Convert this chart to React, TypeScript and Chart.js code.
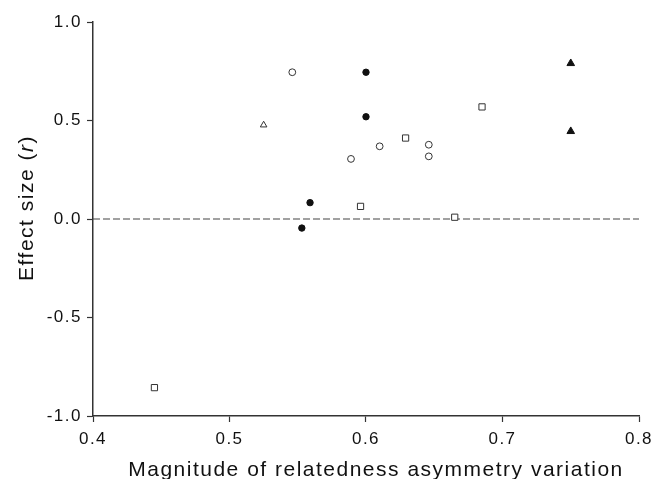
import React, { useEffect, useRef } from "react";
import { Chart, registerables } from "chart.js";

Chart.register(...registerables);

// Data
const filledCircleX = [0.553, 0.559, 0.600, 0.600];
const filledCircleY = [-0.046, 0.083, 0.745, 0.519];

const openCircleX = [0.546, 0.589, 0.610, 0.646, 0.646];
const openCircleY = [0.745, 0.305, 0.369, 0.377, 0.318];

const openSquareX = [0.445, 0.596, 0.629, 0.665, 0.685];
const openSquareY = [-0.856, 0.064, 0.411, 0.009, 0.569];

const openTriangleX = [0.525];
const openTriangleY = [0.477];

const filledTriangleX = [0.750, 0.750];
const filledTriangleY = [0.790, 0.445];

const zeroLineX = [0.4, 0.8];
const zeroLineY = [0, 0];

const xTicks = [0.4, 0.5, 0.6, 0.7, 0.8];
const yTicks = [-1.0, -0.5, 0.0, 0.5, 1.0];

const xTitle = "Magnitude of relatedness asymmetry variation";
const yTitleParts = [
  { text: "Effect size (", italic: false },
  { text: "r", italic: true },
  { text: ")", italic: false },
];

const FONT = "'Liberation Sans', Arial, sans-serif";
const INK = "#111111";

const pts = (xs: number[], ys: number[]) => xs.map((x, i) => ({ x, y: ys[i] }));

export default function App() {
  const ref = useRef<HTMLCanvasElement | null>(null);

  useEffect(() => {
    if (!ref.current) return;

    const spacingPlugin = {
      id: "spacing",
      beforeDraw(chart: any) {
        chart.ctx.letterSpacing = "1.5px";
      },
    };

    const titlePlugin = {
      id: "titles",
      afterDraw(chart: any) {
        const ctx = chart.ctx as CanvasRenderingContext2D;
        ctx.save();
        (ctx as any).letterSpacing = "1.5px";
        ctx.fillStyle = INK;
        ctx.textBaseline = "alphabetic";
        ctx.textAlign = "left";
        // x title
        ctx.font = `21px ${FONT}`;
        const xw = ctx.measureText(xTitle).width;
        ctx.fillText(xTitle, 376 - xw / 2, 476);
        // y title (rotated, with italic r)
        const fonts = yTitleParts.map((p) => `${p.italic ? "italic " : ""}21px ${FONT}`);
        const widths = yTitleParts.map((p, i) => {
          ctx.font = fonts[i];
          return ctx.measureText(p.text).width;
        });
        const total = widths.reduce((a, b) => a + b, 0);
        ctx.translate(33, 208);
        ctx.rotate(-Math.PI / 2);
        let cx = -total / 2;
        yTitleParts.forEach((p, i) => {
          ctx.font = fonts[i];
          ctx.fillText(p.text, cx, 0);
          cx += widths[i];
        });
        ctx.restore();
      },
    };

    const tickFont = { family: FONT, size: 17 };

    const chart = new Chart(ref.current, {
      type: "scatter",
      data: {
        datasets: [
          {
            label: "filled circles",
            data: pts(filledCircleX, filledCircleY),
            pointStyle: "circle",
            pointRadius: 3.2,
            backgroundColor: INK,
            borderColor: INK,
            borderWidth: 1,
            order: 1,
          },
          {
            label: "open circles",
            data: pts(openCircleX, openCircleY),
            pointStyle: "circle",
            pointRadius: 3.4,
            backgroundColor: "#ffffff",
            borderColor: "#333333",
            borderWidth: 1,
            order: 1,
          },
          {
            label: "open squares",
            data: pts(openSquareX, openSquareY),
            pointStyle: "rect",
            pointRadius: 4.4,
            backgroundColor: "#ffffff",
            borderColor: "#333333",
            borderWidth: 1,
            order: 1,
          },
          {
            label: "open triangle",
            data: pts(openTriangleX, openTriangleY),
            pointStyle: "triangle",
            pointRadius: 3.8,
            backgroundColor: "#ffffff",
            borderColor: "#333333",
            borderWidth: 1,
            order: 1,
          },
          {
            label: "filled triangles",
            data: pts(filledTriangleX, filledTriangleY),
            pointStyle: "triangle",
            pointRadius: 4.4,
            backgroundColor: INK,
            borderColor: INK,
            borderWidth: 1,
            order: 1,
          },
          {
            type: "line" as any,
            label: "zero",
            data: pts(zeroLineX, zeroLineY),
            showLine: true,
            borderColor: "#444444",
            borderWidth: 1.2,
            borderDash: [7, 3],
            pointRadius: 0,
            fill: false,
            order: 10,
          } as any,
        ],
      },
      options: {
        animation: false,
        responsive: false,
        maintainAspectRatio: false,
        layout: { padding: { top: 22, right: 14, left: 0, bottom: 0 } },
        plugins: {
          legend: { display: false },
          tooltip: { enabled: false },
          title: { display: false },
        },
        scales: {
          x: {
            type: "linear",
            min: 0.4,
            max: 0.8,
            afterBuildTicks: (s: any) => {
              s.ticks = xTicks.map((v) => ({ value: v }));
            },
            afterFit: (s: any) => {
              s.height = 63;
              s.paddingLeft = 0;
              s.paddingRight = 0;
            },
            ticks: {
              font: tickFont,
              color: INK,
              padding: 7,
              callback: (v: any) => Number(v).toFixed(1),
            },
            grid: {
              drawOnChartArea: false,
              drawTicks: true,
              tickLength: 6,
              tickColor: "#333333",
              tickWidth: 1.2,
            },
            border: { color: "#333333", width: 1.5 },
          },
          y: {
            type: "linear",
            min: -1,
            max: 1,
            afterBuildTicks: (s: any) => {
              s.ticks = yTicks.map((v) => ({ value: v }));
            },
            afterFit: (s: any) => {
              s.width = 93;
              s.paddingTop = 0;
              s.paddingBottom = 0;
            },
            ticks: {
              font: tickFont,
              color: INK,
              padding: 5,
              callback: (v: any) => Number(v).toFixed(1),
            },
            grid: {
              drawOnChartArea: false,
              drawTicks: true,
              tickLength: 6,
              tickColor: "#333333",
              tickWidth: 1.2,
            },
            border: { color: "#333333", width: 1.5 },
          },
        },
      },
      plugins: [spacingPlugin, titlePlugin],
    } as any);

    return () => chart.destroy();
  }, []);

  return (
    <div style={{ position: "absolute", left: 0, top: 0, width: 653, height: 479, background: "#fff" }}>
      <canvas ref={ref} width={653} height={479} style={{ display: "block" }} />
    </div>
  );
}
